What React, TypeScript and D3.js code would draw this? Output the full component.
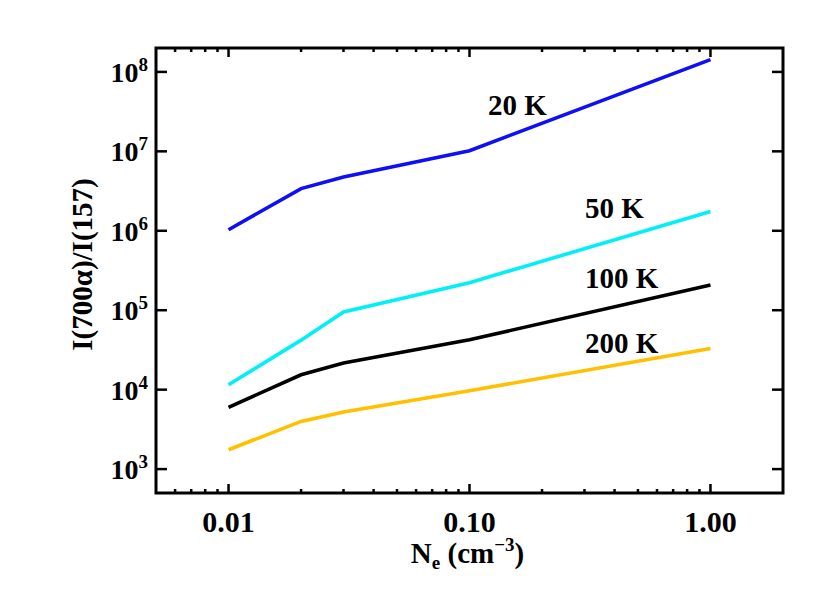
import React, { useRef, useEffect } from "react";
import * as d3 from "d3";

// electron density (cm^-3)
const densities = [0.01, 0.02, 0.03, 0.1, 1.0];
// ratio I(700a)/I(157) for each temperature
const ratio20K = [1.03e6, 3.4e6, 4.76e6, 1.02e7, 1.43e8];
const ratio50K = [1.15e4, 4.2e4, 9.5e4, 2.22e5, 1.75e6];
const ratio100K = [6.0e3, 1.54e4, 2.16e4, 4.25e4, 2.07e5];
const ratio200K = [1.75e3, 3.98e3, 5.22e3, 9.7e3, 3.3e4];
const seriesLabels = ["20 K", "50 K", "100 K", "200 K"];
const xTickLabels = ["0.01", "0.10", "1.00"];
const yTickExponents = [3, 4, 5, 6, 7, 8];

const App = () => {
  const svgRef = useRef<SVGSVGElement>(null);

  useEffect(() => {
    const w = 830;
    const h = 593;
    const margin = { top: 48, right: 47, bottom: 100, left: 156 };
    const font = "Liberation Serif, Tinos, Times New Roman, DejaVu Serif, serif";

    const svg = d3
      .select(svgRef.current)
      .attr("width", w)
      .attr("height", h)
      .style("font-family", font)
      .style("font-weight", "bold");
    svg.selectAll("*").remove();

    const x = d3
      .scaleLog()
      .domain([0.005, 2])
      .range([margin.left, w - margin.right]);
    const y = d3
      .scaleLog()
      .domain([500, 2e8])
      .range([h - margin.bottom, margin.top]);

    const series = [
      { values: ratio20K, color: "#0f0ff5", label: seriesLabels[0], lx: 488, ly: 115 },
      { values: ratio50K, color: "#00f0f5", label: seriesLabels[1], lx: 585, ly: 218 },
      { values: ratio100K, color: "#000000", label: seriesLabels[2], lx: 585, ly: 288 },
      { values: ratio200K, color: "#ffc000", label: seriesLabels[3], lx: 585, ly: 353 },
    ];

    const line = d3
      .line<number>()
      .x((_, i) => x(densities[i]))
      .y((d) => y(d));

    series.forEach((s) => {
      svg
        .append("path")
        .attr("d", line(s.values))
        .attr("fill", "none")
        .attr("stroke", s.color)
        .attr("stroke-width", 3.6);

      svg
        .append("text")
        .attr("x", s.lx)
        .attr("y", s.ly)
        .style("font-size", "29px")
        .text(s.label);
    });

    // ticks (inward on all four sides)
    const x0 = margin.left;
    const x1 = w - margin.right;
    const y0 = h - margin.bottom;
    const y1 = margin.top;
    const majorX = [0.01, 0.1, 1];
    const minorX: number[] = [];
    [0.001, 0.01, 0.1].forEach((dec) => {
      for (let k = 2; k <= 9; k++) {
        const v = dec * k;
        if (v > 0.005 && v < 2) minorX.push(v);
      }
    });

    const ticks = svg.append("g").attr("stroke", "#000").attr("stroke-width", 2.5);
    minorX.forEach((v) => {
      ticks.append("line").attr("x1", x(v)).attr("x2", x(v)).attr("y1", y0).attr("y2", y0 - 4);
      ticks.append("line").attr("x1", x(v)).attr("x2", x(v)).attr("y1", y1).attr("y2", y1 + 4);
    });
    majorX.forEach((v) => {
      ticks.append("line").attr("x1", x(v)).attr("x2", x(v)).attr("y1", y0).attr("y2", y0 - 9);
      ticks.append("line").attr("x1", x(v)).attr("x2", x(v)).attr("y1", y1).attr("y2", y1 + 9);
    });
    yTickExponents.forEach((e) => {
      const v = Math.pow(10, e);
      ticks.append("line").attr("x1", x0).attr("x2", x0 + 11).attr("y1", y(v)).attr("y2", y(v));
      ticks.append("line").attr("x1", x1).attr("x2", x1 - 11).attr("y1", y(v)).attr("y2", y(v));
    });

    // frame
    svg
      .append("rect")
      .attr("x", x0)
      .attr("y", y1)
      .attr("width", x1 - x0)
      .attr("height", y0 - y1)
      .attr("fill", "none")
      .attr("stroke", "#000")
      .attr("stroke-width", 3);

    // x tick labels
    majorX.forEach((v, i) => {
      svg
        .append("text")
        .attr("x", x(v))
        .attr("y", 532)
        .attr("text-anchor", "middle")
        .style("font-size", "30px")
        .text(xTickLabels[i]);
    });

    // y tick labels 10^n
    yTickExponents.forEach((e) => {
      const t = svg
        .append("text")
        .attr("x", 148)
        .attr("y", y(Math.pow(10, e)) + 10)
        .attr("text-anchor", "end")
        .style("font-size", "28px");
      t.append("tspan").text("10");
      t.append("tspan").attr("dy", -11).style("font-size", "19px").text(String(e));
    });

    // x axis title
    const xt = svg
      .append("text")
      .attr("x", (x0 + x1) / 2 - 2)
      .attr("y", 563)
      .attr("text-anchor", "middle")
      .style("font-size", "29px");
    xt.append("tspan").text("N");
    xt.append("tspan").attr("dy", 6).style("font-size", "19px").text("e");
    xt.append("tspan").attr("dy", -6).text(" (cm");
    xt.append("tspan").attr("dy", -12).style("font-size", "19px").text("\u22123");
    xt.append("tspan").attr("dy", 12).text(")");

    // y axis title
    svg
      .append("text")
      .attr("transform", `translate(92, ${(y0 + y1) / 2 - 6}) rotate(-90)`)
      .attr("text-anchor", "middle")
      .style("font-size", "29px")
      .text("I(700\u03b1)/I(157)");
  }, []);

  return (
    <svg
      ref={svgRef}
      style={{ position: "absolute", left: 0, top: 0, background: "#fff" }}
    ></svg>
  );
};

export default App;
